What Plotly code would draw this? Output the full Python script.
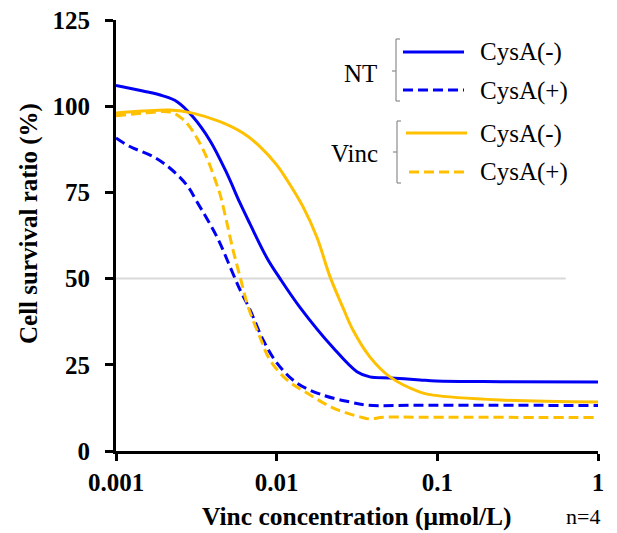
import plotly.graph_objects as go

# ---- data ----
nt_minus_x = [0.001, 0.00147, 0.00196, 0.0024, 0.003, 0.00385, 0.0049, 0.0059, 0.0068,
              0.0087, 0.0105, 0.014, 0.0224, 0.0316, 0.038, 0.051, 0.078, 0.098, 0.25, 1.0]
nt_minus_y = [106, 104.4, 103, 101.3, 97, 90, 80.5, 72, 66,
              56, 50, 41.6, 30, 23, 21.5, 21.2, 20.6, 20.3, 20.1, 20.0]

nt_plus_x = [0.001, 0.00122, 0.0017, 0.00217, 0.00277, 0.00319, 0.00426, 0.00513, 0.00592,
             0.00682, 0.00822, 0.01005, 0.01337, 0.0194, 0.0286, 0.0365, 0.078, 1.0]
nt_plus_y = [90.8, 88.3, 85.4, 82, 77, 72.3, 62, 53.4, 46.7,
             41.0, 32.3, 25.5, 19.7, 16.2, 14.2, 13.3, 13.3, 13.2]

vinc_minus_x = [0.001, 0.00147, 0.00217, 0.003, 0.00444, 0.00617, 0.00787, 0.01, 0.0116,
                0.0146, 0.0178, 0.0215, 0.0259, 0.0299, 0.038, 0.0507, 0.078, 0.094, 0.245, 1.0]
vinc_minus_y = [98, 98.6, 98.9, 98, 95.5, 92.2, 88.3, 83, 78.6,
                70.8, 62, 50.5, 41.5, 35, 27.3, 21.5, 17.1, 16.2, 14.8, 14.2]

vinc_plus_x = [0.001, 0.00147, 0.00217, 0.0025, 0.00277, 0.00319, 0.00368, 0.00426, 0.00444,
               0.00491, 0.00535, 0.00592, 0.00662, 0.00787, 0.00908, 0.0116, 0.01545, 0.0224,
               0.033, 0.038, 0.0458, 0.078, 1.0]
vinc_plus_y = [97.2, 98, 98.3, 96.9, 95, 90.8, 85, 77, 74.5,
               66, 58.3, 50.5, 42.0, 33, 26.4, 20.6, 16.8, 12.5,
               9.9, 9.3, 9.8, 9.8, 9.7]

ref_x = [0.001, 0.63]
ref_y = [50, 50]

x_tickvals = [0.001, 0.01, 0.1, 1]
x_ticktext = ["0.001", "0.01", "0.1", "1"]
y_tickvals = [0, 25, 50, 75, 100, 125]

BLUE = "#0000F5"
GOLD = "#FFC000"
FONT = "Liberation Serif"

fig = go.Figure()
fig.add_trace(go.Scatter(x=ref_x, y=ref_y, mode="lines",
                         line=dict(color="#D9D9D9", width=2), hoverinfo="skip"))
series = [
    (nt_minus_x, nt_minus_y, BLUE, "solid"),
    (nt_plus_x, nt_plus_y, BLUE, "10px,5px"),
    (vinc_minus_x, vinc_minus_y, GOLD, "solid"),
    (vinc_plus_x, vinc_plus_y, GOLD, "10px,5px"),
]
for xs, ys, c, d in series:
    fig.add_trace(go.Scatter(x=xs, y=ys, mode="lines",
                             line=dict(color=c, width=3, dash=d, shape="spline", smoothing=1.0)))

# page body has an 8px margin: build the figure in page pixel coordinates minus that offset
OFF = 8
W, H = 617, 533
L, R, T, B = 116, 598, 20, 451


def px(x):
    return (x - L) / (R - L)


def py(y):
    return (B - y) / (B - T)


shapes = []
annotations = []

# legend brackets
for top, mid, bot, bx in [(39, 71, 101, 396), (121, 152, 183, 397)]:
    gray = dict(color="#8C8C8C", width=1.2)
    shapes.append(dict(type="line", xref="paper", yref="paper", x0=px(bx), x1=px(bx), y0=py(top), y1=py(bot), line=gray))
    shapes.append(dict(type="line", xref="paper", yref="paper", x0=px(bx), x1=px(bx + 4), y0=py(top), y1=py(top), line=gray))
    shapes.append(dict(type="line", xref="paper", yref="paper", x0=px(bx), x1=px(bx + 4), y0=py(bot), y1=py(bot), line=gray))
    shapes.append(dict(type="line", xref="paper", yref="paper", x0=px(bx - 4), x1=px(bx), y0=py(mid), y1=py(mid), line=gray))

# legend swatches
for x0, x1, yy, c, d in [(403, 464, 52, BLUE, "solid"), (403, 464, 90, BLUE, "10px,5px"),
                         (406, 467, 133, GOLD, "solid"), (409, 467, 172, GOLD, "10px,5px")]:
    shapes.append(dict(type="line", xref="paper", yref="paper", x0=px(x0), x1=px(x1), y0=py(yy), y1=py(yy),
                       line=dict(color=c, width=3, dash=d)))

for yy, txt in [(52, "CysA(-)"), (91, "CysA(+)"), (134, "CysA(-)"), (172, "CysA(+)")]:
    annotations.append(dict(xref="paper", yref="paper", x=px(478), y=py(yy), text=txt, showarrow=False,
                            xanchor="left", yanchor="middle", font=dict(family=FONT, size=25, color="#000")))
annotations.append(dict(xref="paper", yref="paper", x=px(360), y=py(73), text="NT", showarrow=False,
                        xanchor="center", yanchor="middle", font=dict(family=FONT, size=25, color="#000")))
annotations.append(dict(xref="paper", yref="paper", x=px(354), y=py(154), text="Vinc", showarrow=False,
                        xanchor="center", yanchor="middle", font=dict(family=FONT, size=25, color="#000")))

# axis titles
annotations.append(dict(xref="paper", yref="paper", x=px(357), y=py(517), text="<b>Vinc concentration (μmol/L)</b>",
                        showarrow=False, xanchor="center", yanchor="middle",
                        font=dict(family=FONT, size=25.5, color="#000")))
annotations.append(dict(xref="paper", yref="paper", x=px(583), y=py(517), text="n=4",
                        showarrow=False, xanchor="center", yanchor="middle",
                        font=dict(family=FONT, size=22, color="#000")))
annotations.append(dict(xref="paper", yref="paper", x=px(29), y=py(224), text="<b>Cell survival ratio (%)</b>",
                        showarrow=False, xanchor="center", yanchor="middle", textangle=-90,
                        font=dict(family=FONT, size=25, color="#000")))

fig.update_layout(
    width=W - OFF, height=H - OFF,
    margin=dict(l=L - OFF, r=W - R, t=T - OFF, b=H - B, pad=0, autoexpand=False),
    paper_bgcolor="white", plot_bgcolor="white",
    showlegend=False,
    shapes=shapes, annotations=annotations,
    font=dict(family=FONT, size=25, color="#000"),
)
fig.update_xaxes(type="log", range=[-3, 0], tickvals=x_tickvals, ticktext=x_ticktext,
                 showgrid=False, zeroline=False, showline=True, linecolor="#000", linewidth=3,
                 ticks="outside", ticklen=7, tickwidth=3, tickcolor="#000",
                 ticklabeloverflow="allow", automargin=False,
                 tickfont=dict(family=FONT, size=25, color="#000", weight="bold"))
fig.update_yaxes(range=[0, 125], tickvals=y_tickvals,
                 showgrid=False, zeroline=False, showline=True, linecolor="#000", linewidth=3,
                 ticks="outside", ticklen=8, tickwidth=3, tickcolor="#000",
                 ticklabelstandoff=10, ticklabeloverflow="allow", automargin=False,
                 tickfont=dict(family=FONT, size=25, color="#000", weight="bold"))

fig.write_html("out.html")
